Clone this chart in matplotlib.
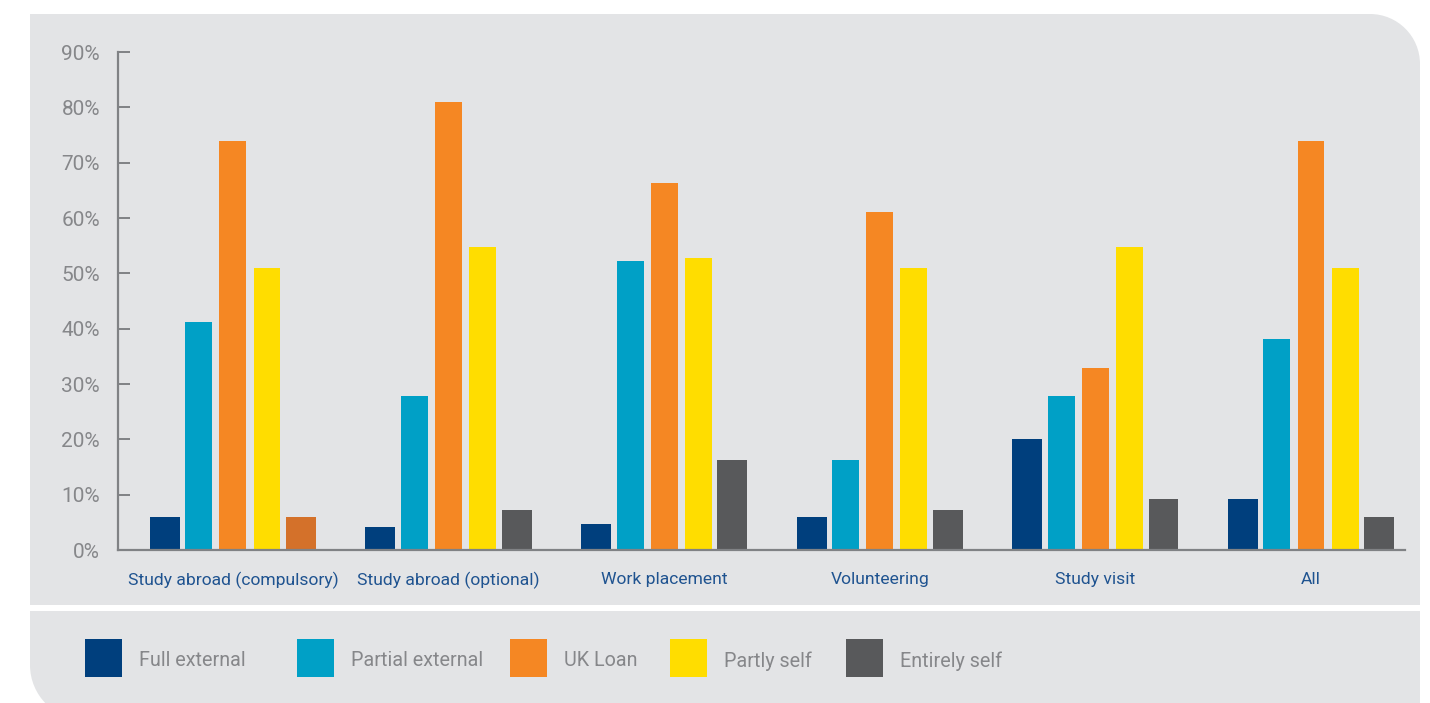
import matplotlib
matplotlib.use("Agg")
import matplotlib.pyplot as plt
import numpy as np
from matplotlib.path import Path
from matplotlib.patches import PathPatch, Rectangle

# Datos del grafico
categorias = ["Study abroad (compulsory)", "Study abroad (optional)", "Work placement",
              "Volunteering", "Study visit", "All"]
series = ["Full external", "Partial external", "UK Loan", "Partly self", "Entirely self"]
full_external = [6.0, 4.2, 4.7, 6.0, 20.0, 9.2]
partial_external = [41.2, 27.8, 52.3, 16.3, 27.8, 38.2]
uk_loan = [74.0, 81.0, 66.4, 61.1, 32.9, 74.0]
partly_self = [51.0, 54.8, 52.8, 51.0, 54.8, 51.0]
entirely_self = [6.0, 7.2, 16.3, 7.2, 9.2, 6.0]
yticks = [0, 10, 20, 30, 40, 50, 60, 70, 80, 90]

colores = ["#003F7D", "#00A0C6", "#F58723", "#FFDD00", "#58595B"]
color_raro = "#D4712A"  # la primera barra de "Entirely self" sale en otro tono
fondo = "#E3E4E6"
gris_eje = "#808285"
gris_texto = "#86878A"
azul_texto = "#1F5390"
fuente = ["Roboto", "DejaVu Sans"]

W, H = 1430, 703
fig = plt.figure(figsize=(W / 100, H / 100), dpi=100)
fig.patch.set_facecolor("white")


def px(x, y):
    return (x / W, 1 - y / H)


# Panel gris con esquinas redondeadas (arriba-derecha y abajo-izquierda)
r1, r2 = 50, 55
x0, x1, y0, y1 = 30, 1420, 14, 720
k = 0.5523
verts = [px(x0, y0), px(x1 - r1, y0),
         px(x1 - r1 + k * r1, y0), px(x1, y0 + r1 - k * r1), px(x1, y0 + r1),
         px(x1, y1), px(x0 + r2, y1),
         px(x0 + r2 - k * r2, y1), px(x0, y1 - r2 + k * r2), px(x0, y1 - r2),
         px(x0, y0)]
codes = [Path.MOVETO, Path.LINETO,
         Path.CURVE4, Path.CURVE4, Path.CURVE4,
         Path.LINETO, Path.LINETO,
         Path.CURVE4, Path.CURVE4, Path.CURVE4,
         Path.CLOSEPOLY]
fig.patches.append(PathPatch(Path(verts, codes), facecolor=fondo, edgecolor="none",
                             transform=fig.transFigure, zorder=-2))
# Linea blanca que separa la leyenda
fig.patches.append(Rectangle(px(x0, 611), (x1 - x0) / W, 6 / H, facecolor="white",
                             edgecolor="none", transform=fig.transFigure, zorder=-1))

# Ejes
ax = fig.add_axes([118 / W, 1 - 550 / H, (1405 - 118) / W, (550 - 52) / H])
ax.set_facecolor("none")
ax.set_zorder(5)

valores = [full_external, partial_external, uk_loan, partly_self, entirely_self]
x = np.arange(len(categorias))
paso = 0.158
anchos = [0.139, 0.125, 0.125, 0.125, 0.139]
for i, vals in enumerate(valores):
    cols = [colores[i]] * len(vals)
    if i == 4:
        cols[0] = color_raro
    ax.bar(x + (i - 2) * paso, vals, width=anchos[i], color=cols, zorder=2)

ax.set_xlim(-0.533, 5.436)
ax.set_ylim(0, 90)
ax.set_yticks(yticks)
ax.set_yticklabels([f"{v}%" for v in yticks], fontsize=15, color=gris_texto,
                   family=fuente)
ax.tick_params(axis="y", direction="in", length=8.6, width=1.4, color=gris_eje, pad=13)
ax.set_xticks(x)
ax.set_xticklabels(categorias, fontsize=12.6, color=azul_texto, family=fuente)
ax.tick_params(axis="x", length=0, pad=15.5)
for lado in ["top", "right"]:
    ax.spines[lado].set_visible(False)
for lado in ["left", "bottom"]:
    ax.spines[lado].set_color(gris_eje)
    ax.spines[lado].set_linewidth(1.6)

# Leyenda dibujada a mano
cuadros_x = [85, 297, 510, 670, 846]
for i, nombre in enumerate(series):
    cx = cuadros_x[i]
    fig.patches.append(Rectangle(px(cx, 677), 37 / W, 38 / H, facecolor=colores[i],
                                 edgecolor="none", transform=fig.transFigure, zorder=2))
    fig.text(*px(cx + 54, 661), nombre, fontsize=14.2, color=gris_texto, va="center",
             ha="left", family=fuente)

fig.savefig("out.png", dpi=100, facecolor="white")
